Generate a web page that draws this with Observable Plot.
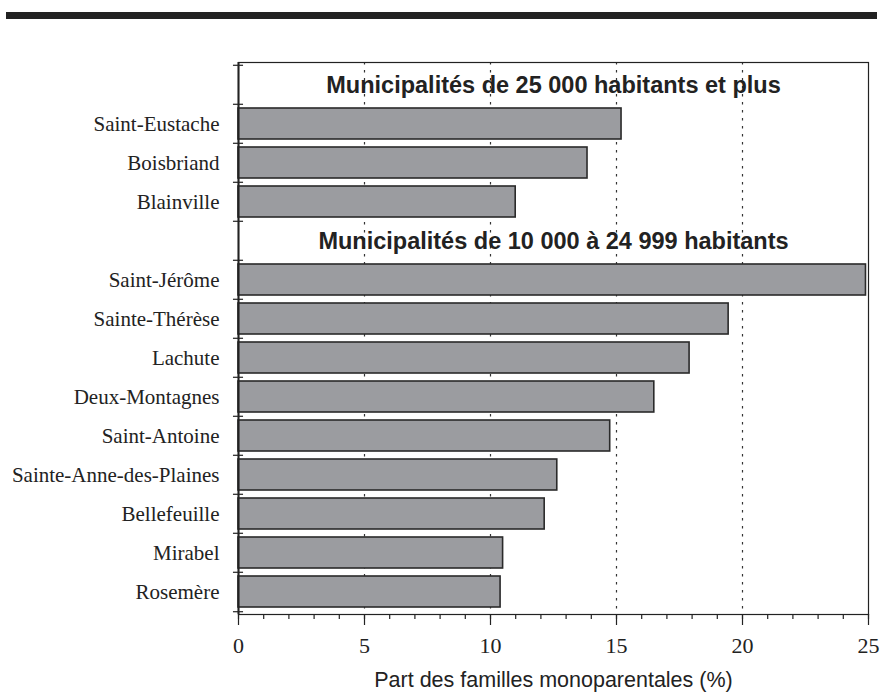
<!DOCTYPE html>
<html>
<head>
<meta charset="utf-8">
<script src="https://cdn.jsdelivr.net/npm/d3@7"></script>
<script src="https://cdn.jsdelivr.net/npm/@observablehq/plot@0.6"></script>
<style>
  body { margin: 0; background: #fff; }
  #wrap { position: relative; width: 883px; height: 692px; }
  #rule { position: absolute; left: 6px; top: 12px; width: 871px; height: 7px; background: #222; }
  #wrap svg { position: absolute; left: 0; top: 0; }
  g[aria-label="x-axis tick label"] text, g[aria-label="y-axis tick label"] text { font-family: 'Liberation Serif', 'Times New Roman', serif !important; }
</style>
</head>
<body>
<div id="wrap"><div id="rule"></div></div>
<script>
// Group headings
const groupHeaders = [
  "Municipalités de 25 000 habitants et plus",
  "Municipalités de 10 000 à 24 999 habitants"
];
// Municipalities of 25 000 inhabitants and more
const largeMunicipalities = ["Saint-Eustache", "Boisbriand", "Blainville"];
const largeValues = [15.2, 13.85, 11.0];
// Municipalities of 10 000 to 24 999 inhabitants
const mediumMunicipalities = [
  "Saint-Jérôme", "Sainte-Thérèse", "Lachute", "Deux-Montagnes", "Saint-Antoine",
  "Sainte-Anne-des-Plaines", "Bellefeuille", "Mirabel", "Rosemère"
];
const mediumValues = [24.9, 19.45, 17.9, 16.5, 14.75, 12.65, 12.15, 10.5, 10.4];
// Axis ticks
const xMajorTicks = [0, 5, 10, 15, 20, 25];
const xMinorTicks = [0,1,2,3,4,5,6,7,8,9,10,11,12,13,14,15,16,17,18,19,20,21,22,23,24,25];
const gridTicks = [5, 10, 15, 20];
const xLabel = "Part des familles monoparentales (%)";

const rows = [
  ...largeMunicipalities.map((name, i) => ({name, value: largeValues[i]})),
  ...mediumMunicipalities.map((name, i) => ({name, value: mediumValues[i]}))
];
const yDomain = [groupHeaders[0], ...largeMunicipalities, groupHeaders[1], ...mediumMunicipalities];

const W = 883, H = 692, mt = 62, mb = 78, ml = 238, mr = 15;
const step = (H - mt - mb) / yDomain.length;
const serif = "Liberation Serif";
const sans = "Liberation Sans";

const chart = Plot.plot({
  width: W, height: H,
  marginTop: mt, marginBottom: mb, marginLeft: ml, marginRight: mr,
  style: {background: "transparent", fontFamily: "Liberation Serif", fontSize: "21px", color: "#222", overflow: "visible"},
  x: {domain: [0, 25], label: null},
  y: {domain: yDomain, paddingInner: 0.2, paddingOuter: 0.1, label: null},
  marks: [
    Plot.gridX(gridTicks, {stroke: "#333", strokeOpacity: 1, strokeWidth: 1.2, strokeDasharray: "2.5,5.5"}),
    Plot.barX(rows, {x: "value", y: "name", fill: "#9b9ca0", stroke: "#2a2a2a", strokeWidth: 1.6}),
    Plot.frame({stroke: "#222", strokeWidth: 1.2}),
    Plot.ruleX([0], {stroke: "#222", strokeWidth: 2}),
    // boundary ticks on the y axis
    Plot.ruleY(yDomain, {y: d => d, x1: -0.2, x2: 0.2, dy: -step / 2, stroke: "#222", strokeWidth: 1.2}),
    Plot.ruleY(yDomain.slice(-1), {y: d => d, x1: -0.2, x2: 0.2, dy: step / 2, stroke: "#222", strokeWidth: 1.2}),
    Plot.axisY({
      tickSize: 0, tickPadding: 19,
      tickFormat: d => groupHeaders.includes(d) ? "" : d,
      fontFamily: serif, fontSize: 21, fill: "#222", label: null
    }),
    Plot.axisX({ticks: xMinorTicks, tickSize: 5, tickFormat: () => "", stroke: "#222", strokeWidth: 1.2, label: null}),
    Plot.axisX({ticks: xMajorTicks, tickSize: 11, tickPadding: 12, fontFamily: serif, fontSize: 22, fill: "#222", stroke: "#222", strokeWidth: 1.2, label: null}),
    Plot.text(groupHeaders, {
      y: d => d, frameAnchor: "middle", text: d => d,
      fontFamily: sans, fontWeight: "bold", fontSize: 23.5, fill: "#222"
    }),
    Plot.text([xLabel], {
      frameAnchor: "bottom", text: d => d, dy: 66,
      fontFamily: sans, fontSize: 21.5, fill: "#222", lineAnchor: "middle"
    })
  ]
});
document.getElementById("wrap").appendChild(chart);
</script>
</body>
</html>
